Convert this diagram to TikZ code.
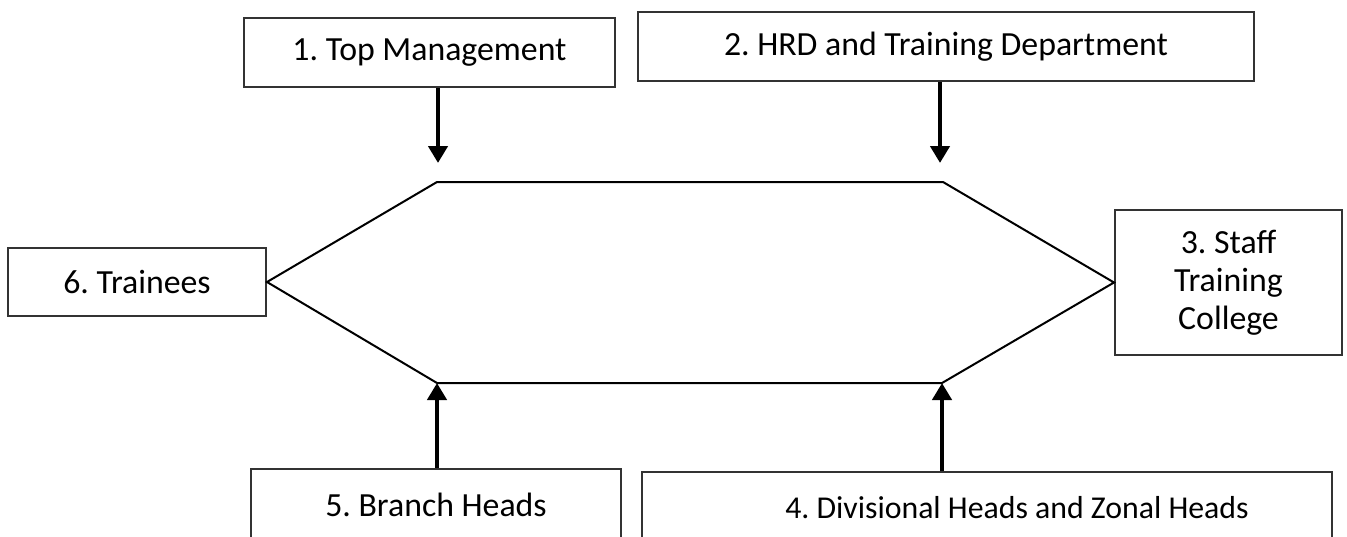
\documentclass[tikz,border=0pt]{standalone}
\usepackage{fontspec}
\setmainfont{Carlito}
\usetikzlibrary{arrows.meta,calc,positioning}
\frenchspacing

\tikzset{
  box/.style={draw=black!80, line width=1pt, fill=white, inner sep=0pt, align=center,
    font=\fontsize{16.9}{19}\selectfont},
  flow/.style={line width=2.2pt, -{Triangle[width=9.5pt,length=8.5pt]}},
}

\begin{document}
\begin{tikzpicture}[x=0.5pt,y=-0.5pt]
  \useasboundingbox (0,0) rectangle (1347,536);
  \clip (0,0) rectangle (1347,536);
  % boxes
  \node[box, minimum width=185.5pt, minimum height=34.5pt] (top) at (429.5,52.5) {1. Top Management};
  \node[box, minimum width=308pt, minimum height=34.5pt] (hrd) at (946,46.5) {2. HRD and Training Department};
  \node[box, minimum width=113.5pt, minimum height=72.5pt] (college) at (1228.5,282.5) {3. Staff\\Training\\College};
  \node[box, minimum width=345pt, minimum height=36pt, font=\fontsize{15.9}{19}\selectfont] (zonal) at (987,508)
    {\hspace*{30pt}4. Divisional Heads and Zonal Heads};
  \node[box, minimum width=185pt, minimum height=36pt] (branch) at (436,505) {5. Branch Heads};
  \node[box, minimum width=129pt, minimum height=34pt] (trainees) at (137,282) {6. Trainees};
  % hexagon corners
  \coordinate (tl) at (437,182);
  \coordinate (tr) at (943,182);
  \coordinate (br) at (942,383);
  \coordinate (bl) at (437,383);
  \draw[line width=1pt] (trainees.east) -- (tl) -- (tr) -- (college.west) -- (br) -- (bl) -- cycle;
  % arrows in
  \coordinate (in1) at (438,163);
  \coordinate (in2) at (940,163);
  \draw[flow] (top.south -| in1) -- (in1);
  \draw[flow] (hrd.south -| in2) -- (in2);
  \draw[flow] (branch.north -| bl) -- (bl);
  \draw[flow] (zonal.north -| br) -- (br);
\end{tikzpicture}
\end{document}
